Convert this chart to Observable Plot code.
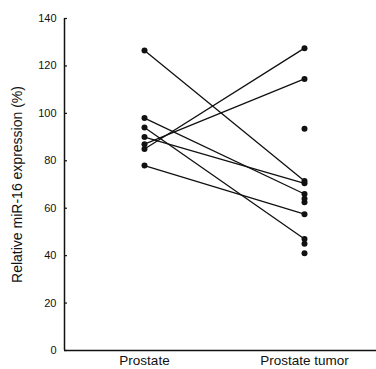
<!DOCTYPE html>
<html>
<head>
<meta charset="utf-8">
<script src="https://cdn.jsdelivr.net/npm/d3@7"></script>
<script src="https://cdn.jsdelivr.net/npm/@observablehq/plot@0.6"></script>
<style>
  html, body { margin: 0; padding: 0; background: #fff; }
  svg { display: block; }
</style>
</head>
<body>
<div id="chart"></div>
<script>
const groups = ["Prostate", "Prostate tumor"];
const yTicks = [0, 20, 40, 60, 80, 100, 120, 140];
// paired samples: normal prostate value -> tumor value
const pairedProstate = [126.5, 98, 94, 90, 87, 85, 78];
const pairedTumor    = [71.5, 66, 47, 70.5, 114.5, 127.5, 57.5];
// extra tumor points without a connecting line
const unpairedTumor  = [93.5, 64, 62.5, 45, 41];

const lines = [];
pairedProstate.forEach((v, i) => {
  lines.push({id: i, g: 0, value: v});
  lines.push({id: i, g: 1, value: pairedTumor[i]});
});
const dots = lines.concat(unpairedTumor.map(v => ({g: 1, value: v})));

const chart = Plot.plot({
  width: 376,
  height: 369,
  marginLeft: 64,
  marginRight: 0,
  marginTop: 18,
  marginBottom: 19,
  style: {fontFamily: "'Liberation Sans', Arial, sans-serif", fontSize: "11px", color: "#111", background: "#fff"},
  x: {domain: [-0.5, 1.45]},
  y: {domain: [0, 140]},
  marks: [
    Plot.axisX({ticks: [0, 1], tickFormat: i => groups[i], tickSize: 0, tickPadding: 5, label: null, fontSize: 13.5}),
    Plot.axisY({ticks: yTicks, tickSize: 0, tickPadding: 8, fontSize: 11,
      label: "Relative miR-16 expression (%)", labelAnchor: "center", labelArrow: "none", labelOffset: 52}),
    Plot.axisY({ticks: yTicks, tickSize: 3, dx: 3, text: null, label: null, stroke: "#111", strokeWidth: 1.2}),
    Plot.ruleX([-0.5], {stroke: "#111", strokeWidth: 1.5}),
    Plot.ruleY([0], {stroke: "#111", strokeWidth: 1.5}),
    Plot.line(lines, {x: "g", y: "value", z: "id", stroke: "#111", strokeWidth: 1.3}),
    Plot.dot(dots, {x: "g", y: "value", r: 3, fill: "#111", stroke: "none"})
  ]
});
chart.querySelectorAll("[aria-label='y-axis label'] text, [aria-label='y-axis label']").forEach(el => el.setAttribute("font-size", "14"));
document.getElementById("chart").appendChild(chart);
</script>
</body>
</html>
